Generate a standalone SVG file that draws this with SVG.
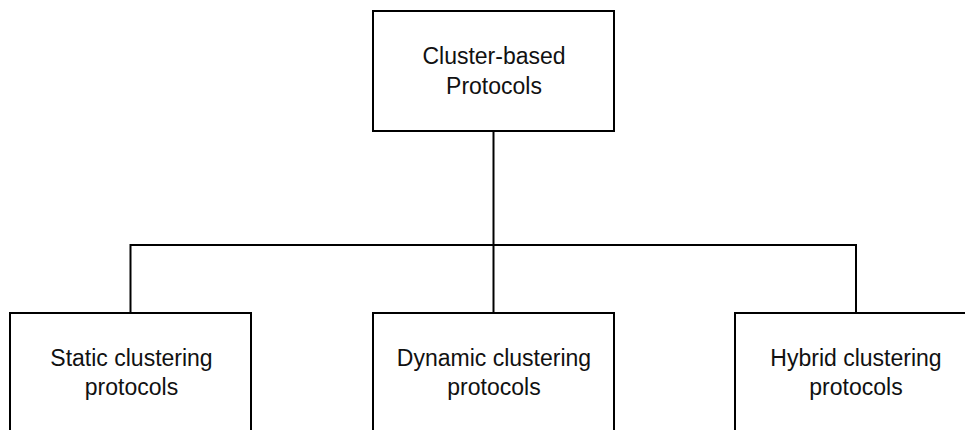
<svg xmlns="http://www.w3.org/2000/svg" width="965" height="430" viewBox="0 0 965 430">
  <style>
    .box { fill: #ffffff; stroke: #000000; stroke-width: 2; }
    .conn { fill: none; stroke: #000000; stroke-width: 2; }
    .lbl { font-family: "Liberation Sans", Arial, sans-serif; font-size: 23px; fill: #111111; text-anchor: middle; }
  </style>
  <rect x="0" y="0" width="965" height="430" fill="#ffffff"/>
  <g id="connectors">
    <line class="conn" x1="493.5" y1="131" x2="493.5" y2="313"/>
    <line class="conn" x1="130.5" y1="245" x2="856" y2="245"/>
    <line class="conn" x1="130.5" y1="244" x2="130.5" y2="313"/>
    <line class="conn" x1="856" y1="244" x2="856" y2="313"/>
  </g>
  <g id="node-root">
    <rect class="box" x="373" y="11" width="241" height="120"/>
    <text class="lbl" x="494" y="64">Cluster-based</text>
    <text class="lbl" x="494" y="93.5">Protocols</text>
  </g>
  <g id="node-static">
    <rect class="box" x="10" y="313" width="241" height="125"/>
    <text class="lbl" x="131.5" y="365.5">Static clustering</text>
    <text class="lbl" x="131.5" y="394.5">protocols</text>
  </g>
  <g id="node-dynamic">
    <rect class="box" x="373" y="313" width="241" height="125"/>
    <text class="lbl" x="494" y="365.5">Dynamic clustering</text>
    <text class="lbl" x="494" y="394.5">protocols</text>
  </g>
  <g id="node-hybrid">
    <rect class="box" x="735" y="313" width="241" height="125"/>
    <text class="lbl" x="856" y="365.5">Hybrid clustering</text>
    <text class="lbl" x="856" y="394.5">protocols</text>
  </g>
</svg>
